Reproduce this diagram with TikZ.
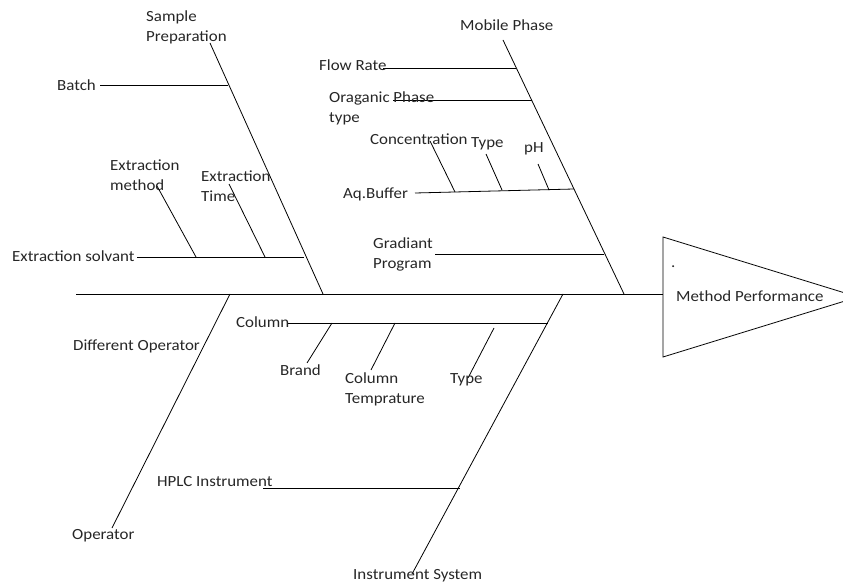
\documentclass[tikz,border=0pt]{standalone}
\usepackage{fontspec}
\setmainfont{Carlito}[FakeStretch=1.09]
\definecolor{txt}{HTML}{262626}
\begin{document}
\begin{tikzpicture}[x=1pt,y=-1pt,
  lbl/.style={anchor=west,inner sep=0pt,align=left,text=txt,font=\fontsize{15.5}{20}\selectfont},
  bone/.style={draw=black,line width=0.8pt}]
\useasboundingbox (0,0) rectangle (843,585);
\clip (0,0) rectangle (843,585);
% coordinates
\coordinate (spL) at (76,294);
\coordinate (spR) at (663,294);
\coordinate (sp1) at (210,43);  \coordinate (sp2) at (323,294);
\coordinate (mp1) at (503,40);  \coordinate (mp2) at (624,294);
\coordinate (op1) at (230,294); \coordinate (op2) at (112,528);
\coordinate (is1) at (563,294); \coordinate (is2) at (412,574);
\coordinate (ba1) at (100,85);  \coordinate (ba2) at (228,85);
\coordinate (es1) at (137,257); \coordinate (es2) at (304,257);
\coordinate (em1) at (157,186); \coordinate (em2) at (196,257);
\coordinate (et1) at (229,184); \coordinate (et2) at (265,257);
\coordinate (fr1) at (383,68);  \coordinate (fr2) at (516,68);
\coordinate (or1) at (393,100); \coordinate (or2) at (532,100);
\coordinate (aq1) at (415,193); \coordinate (aq2) at (574,189);
\coordinate (co1) at (430,141); \coordinate (co2) at (455,192);
\coordinate (ty1) at (486,154); \coordinate (ty2) at (502,190);
\coordinate (ph1) at (538,164); \coordinate (ph2) at (549,190);
\coordinate (gr1) at (435,254); \coordinate (gr2) at (604,254);
\coordinate (cl1) at (288,323); \coordinate (cl2) at (548,323);
\coordinate (br1) at (332,323); \coordinate (br2) at (307,363);
\coordinate (ct1) at (395,323); \coordinate (ct2) at (371,370);
\coordinate (tp1) at (494,328); \coordinate (tp2) at (468,378);
\coordinate (hp1) at (263,488); \coordinate (hp2) at (460,488);
\coordinate (trA) at (663,237); \coordinate (trB) at (858,297); \coordinate (trC) at (663,357);
% bones
\draw[bone] (spL) -- (spR);
\draw[bone] (trA) -- (trB) -- (trC) -- cycle;
\draw[bone] (sp1) -- (sp2);
\draw[bone] (mp1) -- (mp2);
\draw[bone] (op1) -- (op2);
\draw[bone] (is1) -- (is2);
\draw[bone] (ba1) -- (ba2);
\draw[bone] (es1) -- (es2);
\draw[bone] (em1) -- (em2);
\draw[bone] (et1) -- (et2);
\draw[bone] (fr1) -- (fr2);
\draw[bone] (or1) -- (or2);
\draw[bone] (aq1) -- (aq2);
\draw[bone] (co1) -- (co2);
\draw[bone] (ty1) -- (ty2);
\draw[bone] (ph1) -- (ph2);
\draw[bone] (gr1) -- (gr2);
\draw[bone] (cl1) -- (cl2);
\draw[bone] (br1) -- (br2);
\draw[bone] (ct1) -- (ct2);
\draw[bone] (tp1) -- (tp2);
\draw[bone] (hp1) -- (hp2);
% labels
\node[lbl] (lsp) at (146,27) {Sample\\Preparation};
\node[lbl] (lba) at (57,85) {Batch};
\node[lbl] (lem) at (110,175) {Extraction\\method};
\node[lbl] (let) at (201,186) {Extraction\\Time};
\node[lbl] (les) at (12,256) {Extraction solvant};
\node[lbl] (lmp) at (460,25) {Mobile\hspace{4pt}Phase};
\node[lbl] (lfr) at (319,65) {Flow Rate};
\node[lbl] (lor) at (329,108) {Oraganic Phase\\type};
\node[lbl] (lco) at (370,139) {Concentration};
\node[lbl] (lty) at (471,144) {Type};
\node[lbl] (lph) at (524,149) {pH};
\node[lbl] (laq) at (343,194) {Aq.Buffer};
\node[lbl] (lgr) at (373,254) {Gradiant\\Program};
\node[lbl] (ldot) at (671,267) {.};
\node[lbl] (lmpf) at (676,296) {Method Performance};
\node[lbl] (lcl) at (236,322) {Column};
\node[lbl] (ldo) at (73,346) {Different Operator};
\node[lbl] (lbr) at (280,370) {Brand};
\node[lbl] (lct) at (345,389) {Column\\Temprature};
\node[lbl] (ltp) at (450,380) {Type};
\node[lbl] (lhp) at (157,482) {HPLC Instrument};
\node[lbl] (lop) at (72,536) {Operator};
\node[lbl] (lis) at (353,576) {Instrument System};
\end{tikzpicture}
\end{document}
